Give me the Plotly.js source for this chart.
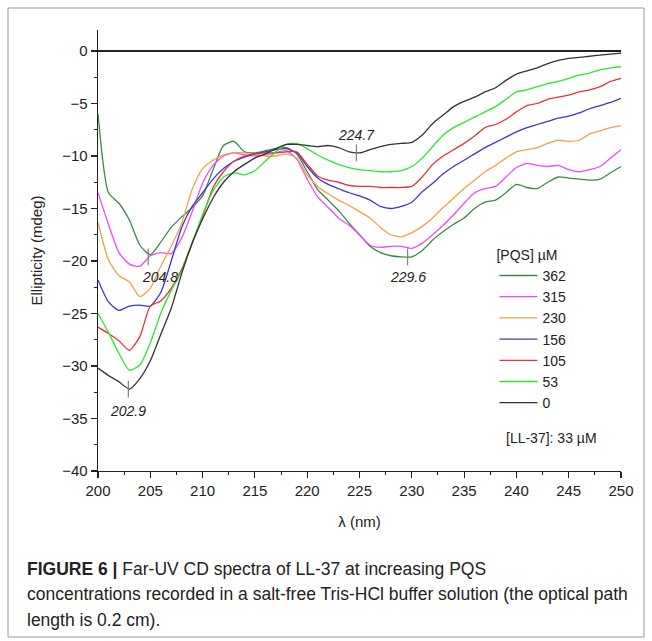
<!DOCTYPE html>
<html>
<head>
<meta charset="utf-8">
<script src="https://cdn.plot.ly/plotly-3.0.1.min.js"></script>
<style>
  html, body { margin: 0; padding: 0; background: #fff; }
  #chart { width: 652px; height: 641px; }
</style>
</head>
<body>
<div id="chart"></div>
<script>
// ---- Data ----
const wavelength = [200,201,202,203,204,205,206,207,208,209,210,211,212,213,214,215,216,217,218,219,220,221,222,223,224,225,226,227,228,229,230,231,232,233,234,235,236,237,238,239,240,241,242,243,244,245,246,247,248,249,250];

const pqs362 = [-6.0,-13.5,-14.5,-16.1,-18.5,-19.4,-18.2,-16.8,-15.8,-14.9,-13.8,-11.3,-9.0,-8.6,-9.6,-9.7,-9.5,-9.3,-9.2,-9.8,-11.5,-13.2,-14.2,-15.2,-16.4,-17.5,-18.6,-19.2,-19.5,-19.6,-19.6,-19.0,-18.0,-17.2,-16.5,-15.9,-15.0,-14.4,-14.2,-13.5,-12.7,-13.0,-13.1,-12.5,-12.0,-12.1,-12.2,-12.3,-12.2,-11.6,-11.0];
const pqs315 = [-13.5,-16.5,-19.2,-20.3,-20.5,-19.5,-19.2,-19.3,-17.8,-15.3,-12.6,-10.9,-10.0,-9.7,-9.9,-10.0,-9.9,-9.7,-9.5,-10.3,-12.2,-13.9,-14.9,-15.9,-16.6,-17.5,-18.5,-18.7,-18.6,-18.6,-18.8,-18.3,-17.5,-16.6,-15.6,-14.5,-13.5,-13.1,-12.9,-12.0,-11.1,-10.7,-10.9,-11.0,-10.9,-11.3,-11.5,-11.3,-11.0,-10.2,-9.4];
const pqs230 = [-16.3,-19.9,-21.4,-22.0,-23.4,-22.6,-20.5,-18.6,-16.4,-13.2,-11.2,-10.4,-9.9,-9.7,-9.7,-9.8,-10.0,-10.0,-9.8,-10.2,-11.8,-12.9,-13.6,-14.2,-14.7,-15.3,-15.9,-16.8,-17.5,-17.7,-17.3,-16.7,-15.9,-14.9,-14.0,-13.1,-12.3,-11.5,-10.9,-10.2,-9.6,-9.4,-9.2,-8.8,-8.5,-8.6,-8.5,-7.9,-7.6,-7.3,-7.1];
const pqs156 = [-21.8,-23.9,-24.7,-24.3,-24.2,-24.3,-23.0,-20.0,-16.8,-14.8,-13.5,-12.2,-11.2,-10.5,-10.1,-9.8,-9.6,-9.4,-9.3,-9.7,-11.0,-12.1,-12.7,-13.1,-13.5,-13.8,-14.2,-14.8,-15.0,-14.8,-14.4,-13.4,-12.6,-11.7,-11.0,-10.4,-9.8,-9.2,-8.7,-8.2,-7.7,-7.3,-7.0,-6.7,-6.4,-6.2,-5.9,-5.5,-5.2,-4.9,-4.5];
const pqs105 = [-26.3,-26.9,-27.6,-28.5,-27.2,-24.3,-23.8,-22.6,-20.8,-18.3,-15.8,-13.0,-11.5,-10.5,-10.0,-9.8,-9.7,-9.7,-9.6,-9.6,-10.8,-11.9,-12.3,-12.5,-12.8,-12.9,-12.9,-13.0,-13.0,-13.0,-12.9,-12.0,-10.8,-10.0,-9.4,-8.8,-8.1,-7.3,-7.0,-6.5,-5.8,-5.2,-5.0,-4.6,-4.4,-4.2,-3.9,-3.7,-3.4,-2.9,-2.6];
const pqs53  = [-25.0,-26.8,-28.8,-30.4,-29.9,-27.8,-25.0,-22.8,-21.0,-18.3,-15.6,-13.3,-12.0,-11.6,-11.8,-11.4,-10.5,-9.6,-8.9,-8.8,-9.3,-9.9,-10.4,-10.8,-11.1,-11.3,-11.4,-11.5,-11.5,-11.4,-11.0,-10.2,-9.1,-8.0,-7.3,-6.8,-6.3,-5.8,-5.3,-4.6,-3.9,-3.7,-3.4,-3.1,-2.9,-2.6,-2.3,-2.1,-1.8,-1.6,-1.5];
const pqs0   = [-30.2,-30.9,-31.5,-32.2,-31.2,-29.5,-27.0,-24.5,-21.2,-18.3,-16.0,-14.0,-12.5,-11.5,-10.8,-10.2,-9.8,-9.3,-8.9,-8.9,-9.0,-9.1,-9.0,-9.2,-9.6,-9.7,-9.4,-9.1,-8.9,-8.8,-8.7,-8.0,-6.9,-6.1,-5.3,-4.8,-4.4,-3.9,-3.5,-2.8,-2.2,-1.9,-1.6,-1.2,-0.9,-0.7,-0.6,-0.5,-0.4,-0.3,-0.2];

const seriesNames = ['362','315','230','156','105','53','0'];
const seriesValues = [pqs362, pqs315, pqs230, pqs156, pqs105, pqs53, pqs0];

const peakX = [202.9, 204.8, 224.7, 229.6];
const peakY = [-32.2, -19.6, -9.7, -19.6];
const peakLabels = ['202.9', '204.8', '224.7', '229.6'];

// ---- Styles ----
const colors = ['#3a8a45', '#f04cf0', '#f5a04a', '#3838cc', '#e8303a', '#2ee62e', '#333333'];
const FONT = 'Liberation Sans, Arial, sans-serif';
const TXT = '#222222';

const traces = seriesNames.map((name, i) => ({
  type: 'scatter', mode: 'lines',
  x: wavelength, y: seriesValues[i], name: name,
  line: { color: colors[i], width: 1.3, shape: 'spline', smoothing: 0.6 }
}));

traces.push({
  type: 'scatter', mode: 'markers', x: peakX, y: peakY, showlegend: false, hoverinfo: 'skip',
  marker: { symbol: 'line-ns-open', size: 12, line: { color: '#333', width: 1.2 } }
});

// label offsets (pixels): [dx, dy]
const labelOffsets = [[0, -22], [12, -20], [0, 18], [0, -20]];
const annotations = peakLabels.map((t, i) => ({
  x: peakX[i], y: peakY[i], xref: 'x', yref: 'y', text: '<i>' + t + '</i>', showarrow: false,
  xshift: labelOffsets[i][0], yshift: labelOffsets[i][1],
  font: { family: FONT, size: 14, color: TXT }
}));

annotations.push({
  x: 243.4, y: -36.9, xref: 'x', yref: 'y', text: '[LL-37]: 33 \u00b5M', showarrow: false,
  font: { family: FONT, size: 14, color: TXT }
});

const capFont = { family: FONT, size: 17.5, color: '#222' };
const capLines = [
  '<b>FIGURE 6 |</b> Far-UV CD spectra of LL-37 at increasing PQS',
  'concentrations recorded in a salt-free Tris-HCl buffer solution (the optical path',
  'length is 0.2 cm).'
];
const capY = [569, 594, 620];
capLines.forEach((t, i) => {
  annotations.push({
    xref: 'paper', yref: 'paper', x: (25 - 98) / 523, y: (471 - capY[i]) / 441,
    xanchor: 'left', yanchor: 'middle', text: t, showarrow: false, font: capFont, align: 'left'
  });
});

const layout = {
  width: 652, height: 641,
  margin: { l: 98, r: 31, t: 30, b: 170 },
  paper_bgcolor: '#fff', plot_bgcolor: '#fff',
  showlegend: true,
  legend: {
    x: 0.758, y: 0.52, xanchor: 'left', yanchor: 'top',
    bgcolor: 'rgba(0,0,0,0)', borderwidth: 0,
    font: { family: FONT, size: 14, color: TXT },
    title: { text: '[PQS] \u00b5M', font: { family: FONT, size: 14, color: TXT } },
    itemwidth: 38, tracegroupgap: 0
  },
  xaxis: {
    range: [200, 250], tickmode: 'linear', tick0: 200, dtick: 5,
    ticks: 'outside', ticklen: 6, tickwidth: 1.2, tickcolor: '#222',
    showline: true, linecolor: '#222', linewidth: 1.3, showgrid: false, zeroline: false,
    tickfont: { family: FONT, size: 15, color: TXT },
    minor: { dtick: 2.5, tick0: 200, ticks: 'outside', ticklen: 3, tickcolor: '#222', tickwidth: 1, showgrid: false },
    title: { text: '\u03bb (nm)', font: { family: FONT, size: 15, color: TXT }, standoff: 18 }
  },
  yaxis: {
    range: [-40, 2], tickmode: 'linear', tick0: 0, dtick: 5,
    ticks: 'outside', ticklen: 6, tickwidth: 1.2, tickcolor: '#222',
    showline: true, linecolor: '#222', linewidth: 1.3, showgrid: false,
    zeroline: true, zerolinecolor: '#222', zerolinewidth: 2.5,
    tickfont: { family: FONT, size: 15, color: TXT },
    minor: { dtick: 2.5, tick0: 0, ticks: 'outside', ticklen: 3, tickcolor: '#222', tickwidth: 1, showgrid: false },
    title: { text: 'Ellipticity (mdeg)', font: { family: FONT, size: 15, color: TXT }, standoff: 16 }
  },
  annotations: annotations,
  shapes: [{
    type: 'rect', xref: 'paper', yref: 'paper',
    x0: (8 - 98) / 523, x1: (644 - 98) / 523, y0: (471 - 637) / 441, y1: (471 - 8) / 441,
    line: { color: '#999', width: 1 }, fillcolor: 'rgba(0,0,0,0)', layer: 'below'
  }]
};

Plotly.newPlot('chart', traces, layout, { displayModeBar: false, staticPlot: true });
</script>
</body>
</html>
